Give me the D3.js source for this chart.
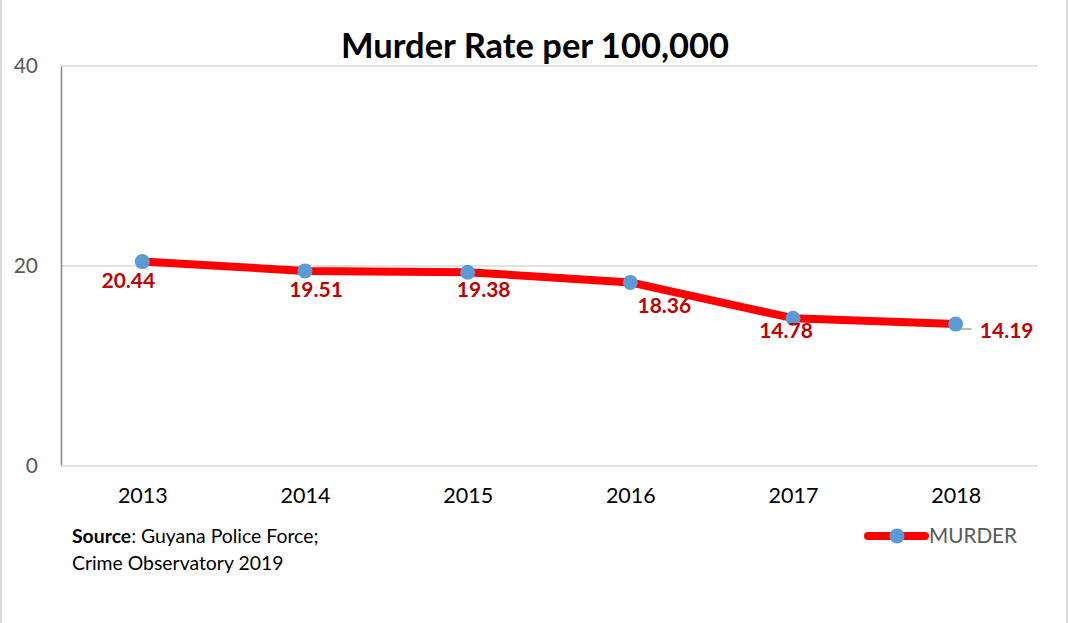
<!DOCTYPE html>
<html>
<head>
<meta charset="utf-8">
<script src="https://cdn.jsdelivr.net/npm/d3@7"></script>
<style>
  html, body { margin: 0; padding: 0; background: #fff; }
  svg { display: block; }
  text { font-family: Lato, "Open Sans", sans-serif; }
</style>
</head>
<body>
<script>
// ---- data ----
const years = ["2013", "2014", "2015", "2016", "2017", "2018"];
const murderRate = [20.44, 19.51, 19.38, 18.36, 14.78, 14.19];
const yTicks = [0, 20, 40];
const seriesName = "MURDER";
const titleText = "Murder Rate per 100,000";

// label nudges (dx, dy) relative to each point
const labelNudge = [[-14, 26], [11, 26], [16, 25], [34, 31], [-7, 20], [51, 14]];

const W = 1068, H = 623;
const plot = { left: 61, right: 1037, top: 66, bottom: 466 };

const svg = d3.select("body").append("svg").attr("width", W).attr("height", H);

// outer border
svg.append("rect").attr("x", 1).attr("y", -2).attr("width", W - 2).attr("height", H + 4)
  .attr("fill", "none").attr("stroke", "#D9D9D9").attr("stroke-width", 2);

const x = d3.scalePoint().domain(years).range([plot.left, plot.right]).padding(0.5);
const y = d3.scaleLinear().domain([0, 40]).range([plot.bottom, plot.top]);

// gridlines
svg.append("g").selectAll("line").data(yTicks.filter(t => t > 0)).join("line")
  .attr("x1", plot.left).attr("x2", plot.right)
  .attr("y1", d => y(d)).attr("y2", d => y(d))
  .attr("stroke", "#D9D9D9").attr("stroke-width", 1.5);

// y axis
const yAxis = svg.append("g").attr("transform", `translate(${plot.left},0)`)
  .call(d3.axisLeft(y).tickValues(yTicks).tickSize(0).tickPadding(23));
yAxis.select(".domain").attr("stroke", "#868686").attr("stroke-width", 1.5);
yAxis.selectAll("text").attr("font-size", 21).attr("fill", "#595959")
  .attr("font-family", "Lato, sans-serif");

// x axis
const xAxis = svg.append("g").attr("transform", `translate(0,${plot.bottom})`)
  .call(d3.axisBottom(x).tickSize(0).tickPadding(22));
xAxis.select(".domain").attr("stroke", "#D9D9D9").attr("stroke-width", 1.5)
  .attr("d", `M${plot.left},0H${plot.right}`);
xAxis.selectAll("text").attr("font-size", 21.5).attr("fill", "#000")
  .attr("font-family", "Lato, sans-serif");

// line
const pts = years.map((yr, i) => ({ yr, v: murderRate[i], i }));
svg.append("path").datum(pts)
  .attr("fill", "none").attr("stroke", "#FF0000").attr("stroke-width", 8)
  .attr("stroke-linejoin", "round").attr("stroke-linecap", "round")
  .attr("d", d3.line().x(d => x(d.yr)).y(d => y(d.v)));

// leader line for last label
const last = pts[pts.length - 1];
svg.append("path")
  .attr("d", `M${x(last.yr) + 2},${y(last.v) + 3}L${x(last.yr) + 5},${y(last.v) + 5}H${x(last.yr) + 16}`)
  .attr("fill", "none").attr("stroke", "#A6A6A6").attr("stroke-width", 1.5);

// markers
svg.append("g").selectAll("circle").data(pts).join("circle")
  .attr("cx", d => x(d.yr)).attr("cy", d => y(d.v)).attr("r", 7.5)
  .attr("fill", "#5B9BD5");

// data labels
svg.append("g").selectAll("text").data(pts).join("text")
  .attr("x", d => x(d.yr) + labelNudge[d.i][0])
  .attr("y", d => y(d.v) + labelNudge[d.i][1])
  .attr("text-anchor", "middle").attr("font-size", 21).attr("font-weight", "bold")
  .attr("fill", "#C00000")
  .text(d => d.v.toFixed(2));

// title
svg.append("text").attr("x", 535).attr("y", 58).attr("text-anchor", "middle")
  .attr("font-size", 34.5).attr("font-weight", "bold").attr("fill", "#000")
  .text(titleText);

// source
const src = svg.append("text").attr("x", 72).attr("y", 543).attr("font-size", 19.4).attr("fill", "#000");
src.append("tspan").attr("font-weight", "bold").text("Source");
src.append("tspan").text(": Guyana Police Force;");
svg.append("text").attr("x", 72).attr("y", 570).attr("font-size", 19.4).attr("fill", "#000")
  .text("Crime Observatory 2019");

// legend
const lg = svg.append("g").attr("transform", "translate(868,536)");
lg.append("line").attr("x1", 0).attr("x2", 57).attr("y1", 0).attr("y2", 0)
  .attr("stroke", "#FF0000").attr("stroke-width", 8).attr("stroke-linecap", "round");
lg.append("circle").attr("cx", 29).attr("cy", 0).attr("r", 7.5).attr("fill", "#5B9BD5");
lg.append("text").attr("x", 61).attr("y", 7).attr("font-size", 20.7).attr("fill", "#595959")
  .text(seriesName);
</script>
</body>
</html>
